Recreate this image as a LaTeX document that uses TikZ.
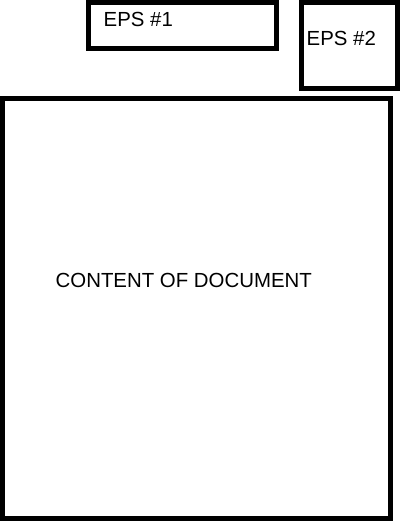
\documentclass[tikz,border=0pt]{standalone}
\usepackage{fontspec}
\setmainfont{Liberation Sans}
\usetikzlibrary{positioning}

\begin{document}
\begin{tikzpicture}[x=1pt,y=1pt]
    \useasboundingbox (0,0) rectangle (400,-531);
    \begin{scope} [every node/.style={rectangle,draw,line width=5pt,inner sep=0pt,outer sep=0pt}]
        \node[minimum width=188pt,minimum height=46pt] (eps1) at (182.5,-25.5) {};
        \node[minimum width=96pt,minimum height=86pt] (eps2) at (349.5,-45.5) {};
        \node[minimum width=388pt,minimum height=420pt] (content) at (196.5,-308.5) {};
    \end{scope}

    \begin{scope}[every node/.style={anchor=base west,inner sep=0pt,font=\fontsize{20.4}{24}\selectfont}]
        \node (eps1label) at (103.5,-26.7) {EPS \#1};
        \node (eps2label) at (306.5,-45.7) {EPS \#2};
        \node (contentlabel) at (55.5,-287.3) {CONTENT OF DOCUMENT};
    \end{scope}
\end{tikzpicture}
\end{document}
